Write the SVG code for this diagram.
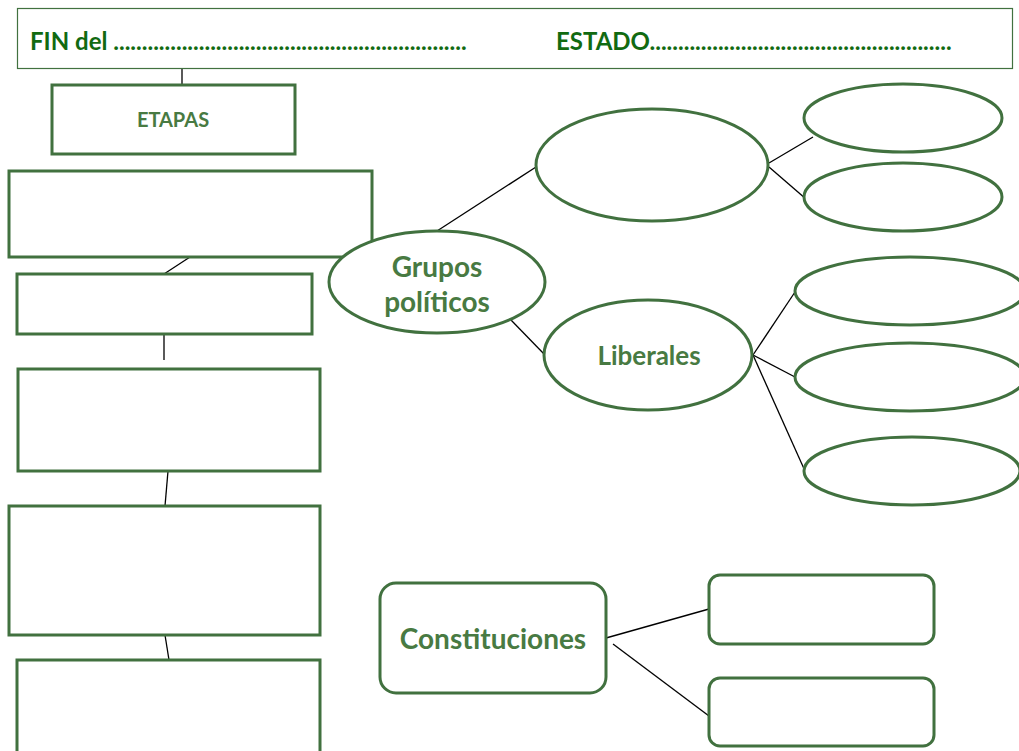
<svg xmlns="http://www.w3.org/2000/svg" width="1019" height="751" viewBox="0 0 1019 751">
<style>
.n{fill:#fff;stroke:#41713f;stroke-width:3}
.c{stroke:#000;stroke-width:1.3;fill:none}
.t{font-family:Lato,"Liberation Sans",sans-serif;font-weight:bold;fill:#487a42;text-anchor:middle}
.h{font-family:Lato,"Liberation Sans",sans-serif;font-weight:bold;fill:#116a11;font-size:24px}
</style>
<rect width="1019" height="751" fill="#fff"/>
<g id="connectors">
<line class="c" x1="182" y1="68" x2="182" y2="85"/>
<line class="c" x1="190" y1="257" x2="164" y2="274"/>
<line class="c" x1="164" y1="334" x2="164" y2="360"/>
<line class="c" x1="168" y1="471" x2="165" y2="506"/>
<line class="c" x1="165" y1="635" x2="169" y2="660"/>
<line class="c" x1="437" y1="231" x2="536" y2="167"/>
<line class="c" x1="511" y1="320" x2="544" y2="354"/>
<line class="c" x1="769" y1="163" x2="813" y2="137"/>
<line class="c" x1="769" y1="167" x2="806" y2="199"/>
<line class="c" x1="753" y1="355" x2="795" y2="292"/>
<line class="c" x1="753" y1="355" x2="795" y2="377"/>
<line class="c" x1="753" y1="355" x2="805" y2="471"/>
<line class="c" x1="606" y1="638" x2="709" y2="609"/>
<line class="c" x1="613" y1="644" x2="709" y2="716"/>
</g>
<g id="title">
<rect x="17.5" y="8.5" width="995" height="60" fill="#fff" stroke="#41713f" stroke-width="1.2"/>
<text class="h" x="30" y="50">FIN del ..............................................................</text>
<text class="h" x="556" y="50">ESTADO.....................................................</text>
</g>
<g id="etapas"><rect class="n" x="52" y="85" width="243" height="69"/><text class="t" x="173" y="127" font-size="20">ETAPAS</text></g>
<g id="box1"><rect class="n" x="9" y="171" width="363" height="86"/></g>
<g id="box2"><rect class="n" x="17" y="274" width="295" height="60"/></g>
<g id="box3"><rect class="n" x="18" y="369" width="302" height="102"/></g>
<g id="box4"><rect class="n" x="9" y="506" width="311" height="129"/></g>
<g id="box5"><rect class="n" x="17" y="660" width="303" height="100"/></g>
<g id="grupos"><ellipse class="n" cx="437" cy="282" rx="108" ry="51"/><text class="t" x="437" y="277" font-size="28">Grupos</text><text class="t" x="437" y="312" font-size="28">políticos</text></g>
<g id="ell-top"><ellipse class="n" cx="652" cy="165" rx="116" ry="56"/></g>
<g id="ell-r1"><ellipse class="n" cx="903" cy="118" rx="99" ry="34"/></g>
<g id="ell-r2"><ellipse class="n" cx="903" cy="197" rx="99" ry="34"/></g>
<g id="liberales"><ellipse class="n" cx="648" cy="355" rx="104" ry="55"/><text class="t" x="649" y="365" font-size="26">Liberales</text></g>
<g id="ell-l1"><ellipse class="n" cx="910" cy="291" rx="115" ry="34"/></g>
<g id="ell-l2"><ellipse class="n" cx="910" cy="377" rx="115" ry="34"/></g>
<g id="ell-l3"><ellipse class="n" cx="912" cy="471" rx="108" ry="34"/></g>
<g id="constituciones"><rect class="n" x="380" y="583" width="226" height="110" rx="16"/><text class="t" x="493" y="649" font-size="28">Constituciones</text></g>
<g id="const1"><rect class="n" x="709" y="575" width="225" height="69" rx="11"/></g>
<g id="const2"><rect class="n" x="709" y="678" width="225" height="68" rx="11"/></g>
</svg>
